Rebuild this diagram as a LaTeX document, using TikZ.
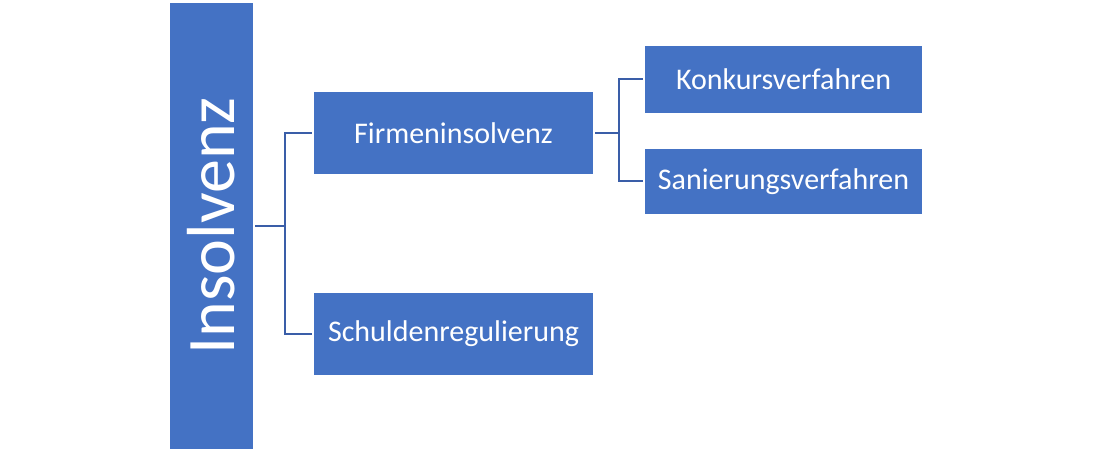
\documentclass[tikz,border=0pt]{standalone}
\usepackage{fontspec}
\setmainfont{Carlito}
\usepackage{tikz}
\usetikzlibrary{positioning}
\definecolor{boxblue}{RGB}{68,114,196}
\definecolor{lineblue}{RGB}{58,94,168}
\tikzstyle{link} = [draw=lineblue, line width=2pt]
\tikzset{
    topic/.style={fill=boxblue, draw=none, inner sep=0pt, text=white,
        font=\fontsize{30}{36}\selectfont},
    rootbox/.style={topic, minimum width=83pt, minimum height=446pt},
}

\begin{document}
\begin{tikzpicture}[x=1pt, y=1pt]
    \useasboundingbox (0,0) rectangle (1096,452);

    % root
    \node[rootbox] (ins) at (211.5,226) {};
    \node[text=white, rotate=90, font=\fontsize{68}{80}\selectfont]
        (instext) at (ins.center) {Insolvenz};

    % first level
    \node[topic, minimum width=279pt, minimum height=82pt] (firm) at (453.5,319) {Firmeninsolvenz};
    \node[topic, minimum width=279pt, minimum height=82pt] (schuld) at (453.5,118) {Schuldenregulierung};

    % second level
    \node[topic, minimum width=277pt, minimum height=67pt] (konk) at (783.5,372.5) {Konkursverfahren};
    \node[topic, minimum width=277pt, minimum height=65pt] (san) at (783.5,270.5) {Sanierungsverfahren};

    % forks
    \coordinate (forka) at (285,226);
    \coordinate (forkb) at (619,319);

    \draw[link, line width=2.6pt] ([xshift=2pt]ins.east) -- (forka);
    \draw[link] (forka) |- ([xshift=-2pt]firm.west);
    \draw[link] (forka) |- ([xshift=-2pt]schuld.west);

    \draw[link, line width=2.6pt] ([xshift=2pt]firm.east) -- (forkb);
    \draw[link] (forkb) |- ([xshift=-2pt]konk.west);
    \draw[link] (forkb) |- ([xshift=-2pt]san.west);
\end{tikzpicture}
\end{document}
